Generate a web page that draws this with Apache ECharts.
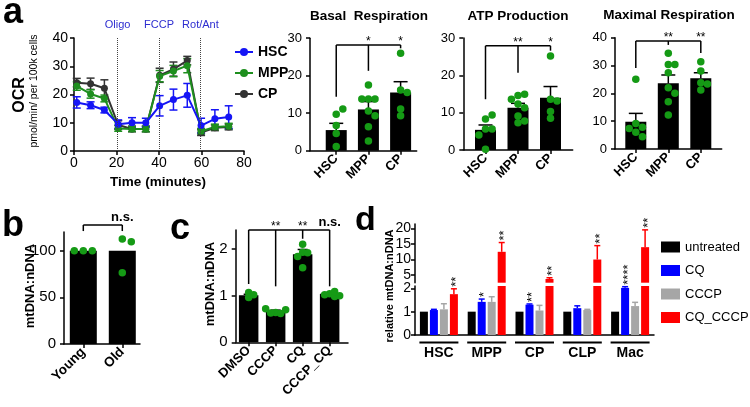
<!DOCTYPE html>
<html><head><meta charset="utf-8">
<script src="https://cdn.jsdelivr.net/npm/echarts@6/dist/echarts.min.js"></script>
<style>html,body{margin:0;padding:0;background:#fff}#c{width:750px;height:407px}</style>
</head><body><div id="c"></div>
<script>
const FONT = '"Liberation Sans", Arial, sans-serif';

// ---------- Panel a: OCR time course ----------
const timeMin = [1.3, 7.8, 14.3, 20.8, 27.3, 33.8, 40.3, 46.8, 53.3, 59.8, 66.3, 72.8];
const ocrHSC = [17.2, 16.2, 14.5, 9.5, 10, 10, 16, 18.2, 19.7, 9, 11.4, 12];
const ocrHSCErr = [2, 1.2, 1, 1.5, 1.8, 1.6, 3.6, 3.7, 4.2, 2.6, 3.2, 4];
const ocrMPP = [23, 20.2, 18.6, 8, 7.8, 7.8, 26.5, 28.3, 30.2, 7, 8.5, 8.8];
const ocrMPPErr = [1.5, 1.5, 1.2, 1, 0.9, 1, 2, 2, 2.5, 1, 1, 1];
const ocrCP = [24.2, 23.8, 22.2, 9.2, 7.8, 7.8, 26.8, 29, 32, 6.5, 8.2, 8.5];
const ocrCPErr = [1.5, 2, 3, 1.5, 1, 1, 2.5, 2.5, 1.5, 1, 1, 1];
const injectionNames = ['Oligo', 'FCCP', 'Rot/Ant'];
const injectionTimes = [20.5, 40, 59.5];

// ---------- Panel a: bar summaries ----------
const cellTypes = ['HSC', 'MPP', 'CP'];
const basalMean = [5.5, 11.0, 15.5];
const basalSem = [1.8, 2.1, 2.9];
const basalDots = [[9.7, 11.1, 6.7, 4.6, 1.1], [17.5, 13.8, 13.8, 13.8, 10.6, 9.3, 6.4, 2.6], [26, 16.2, 15.5, 11.1, 9.3]];
const basalBracketTop = 28.2;
const basalBracketEnds = [14.4, 21.3, 27.3];
const basalSig = ['', '*', '*'];

const atpMean = [5.4, 11.3, 14.0];
const atpSem = [1.3, 1.2, 3.0];
const atpDots = [[8.3, 9.4, 5.6, 5.6, 4.0, 0.2], [14.6, 14.9, 12.3, 13.6, 11.3, 9.1, 7.8, 7.3], [25.2, 13.6, 13.1, 10.3, 8.5]];
const atpBracketTop = 27.9;
const atpBracketEnds = [13.6, 20.7, 26.6];
const atpSig = ['', '**', '*'];

const maxMean = [9.8, 23.6, 25.4];
const maxSem = [3.0, 3.0, 2.0];
const maxDots = [[25.1, 9.2, 7.8, 7.4, 6.0, 4.4], [34.4, 30.4, 30.4, 27.4, 22, 20, 17, 12.2], [31.4, 28, 23.8, 23.4, 21.2]];
const maxBracketTop = 38.8;
const maxBracketEnds = [29.1, 37.4, 34.5];
const maxSig = ['', '**', '**'];

// ---------- Panel b ----------
const ageGroups = ['Young', 'Old'];
const ageMean = [100, 100];
const ageSem = [0, 0];
const ageDots = [[100, 100, 100], [112.5, 109.6, 76.4]];
const ageBracketTop = 127.5;
const ageBracketEnds = [121, 121];
const ageSig = ['', 'n.s.'];

// ---------- Panel c ----------
const drugs = ['DMSO', 'CCCP', 'CQ', 'CCCP_CQ'];
const drugMean = [1.01, 0.67, 1.89, 1.04];
const drugSem = [0.02, 0.02, 0.1, 0.02];
const drugDots = [[1.07, 1.02, 0.96], [0.64, 0.62, 0.63, 0.7, 0.72], [2.1, 1.93, 1.92, 1.84, 1.6], [1.04, 0.98, 1.02, 1.09, 1.0]];
const drugBracketTop = 2.41;
const drugBracketEnds = [1.25, 1.2, 2.22, 1.2];
const drugSig = ['', '**', '**', 'n.s.'];

// ---------- Panel d ----------
const dCells = ['HSC', 'MPP', 'CP', 'CLP', 'Mac'];
const dTreatments = ['untreated', 'CQ', 'CCCP', 'CQ_CCCP'];
const dUntreated = [1, 1, 1, 1, 1];
const dUntreatedErr = [0, 0, 0, 0, 0];
const dCQ = [1.07, 1.42, 1.3, 1.15, 2.02];
const dCQErr = [0.03, 0.12, 0.03, 0.1, 0.05];
const dCCCP = [1.1, 1.42, 1.05, 1.07, 1.24];
const dCCCPErr = [0.24, 0.22, 0.22, 0.03, 0.16];
const dCQCCCP = [1.75, 12.5, 3.7, 10, 14];
const dCQCCCPErr = [0.23, 3, 0.4, 4.5, 5.6];
const dStarCell = [0, 1, 1, 2, 2, 3, 4, 4];
const dStarTreat = [3, 1, 3, 1, 3, 3, 1, 3];
const dStarText = ['**', '*', '**', '**', '**', '**', '****', '**'];
const dLowTicks = [0, 1, 2];
const dHighTicks = [5, 10, 15, 20];

// ================= build =================
const GREEN = '#159a15';
const LINECOL = {HSC: '#1515f5', MPP: '#1e8f1e', CP: '#333333'};
const D_COLORS = ['#000000', '#0000ff', '#a6a6a6', '#ff0000'];

function axisBase(fs) {
  return {
    axisLine: {show: true, onZero: false, lineStyle: {color: '#000', width: 1.5}},
    axisTick: {show: true, length: 4, lineStyle: {color: '#000', width: 1.5}},
    axisLabel: {color: '#000', fontFamily: FONT, fontSize: fs || 13},
    splitLine: {show: false}
  };
}
function merge(a, b) {
  const o = Object.assign({}, a);
  for (const k in b) {
    if (b[k] && typeof b[k] === 'object' && !Array.isArray(b[k]) && a[k] && typeof a[k] === 'object') o[k] = merge(a[k], b[k]);
    else o[k] = b[k];
  }
  return o;
}
function errRender(color, cap, both, dx) {
  dx = dx || 0;
  return function (params, api) {
    const x = api.value(0), m = api.value(1), e = api.value(2);
    if (isNaN(m) || !e) return null;
    const top = api.coord([x, m + e]);
    const bot = api.coord([x, both ? m - e : m]);
    const cx = top[0] + dx;
    const st = {stroke: color, lineWidth: 1.5};
    const ch = [
      {type: 'line', shape: {x1: cx, y1: top[1], x2: cx, y2: bot[1]}, style: st},
      {type: 'line', shape: {x1: cx - cap / 2, y1: top[1], x2: cx + cap / 2, y2: top[1]}, style: st}
    ];
    if (both) ch.push({type: 'line', shape: {x1: cx - cap / 2, y1: bot[1], x2: cx + cap / 2, y2: bot[1]}, style: st});
    return {type: 'group', children: ch};
  };
}
function swarm(vals, pxPerUnit, d) {
  const placed = [];
  return vals.map(v => {
    const y = v * pxPerUnit;
    const cands = [0, d, -d, 2 * d, -2 * d];
    for (const c of cands) {
      if (placed.every(p => Math.hypot(p[0] - c, p[1] - y) >= d * 0.98)) { placed.push([c, y]); return c; }
    }
    placed.push([0, y]); return 0;
  });
}

const grids = [], xAxes = [], yAxes = [], series = [];

// ---- a: line chart (grid 0)
grids.push({left: 74, top: 38, width: 170, height: 113});
xAxes.push(merge(axisBase(14), {type: 'value', gridIndex: 0, min: 0, max: 80, interval: 20, axisLabel: {margin: 5}}));
yAxes.push(merge(axisBase(14), {type: 'value', gridIndex: 0, min: 0, max: 40, interval: 10, axisLabel: {margin: 6}}));
const lineSets = [['CP', ocrCP, ocrCPErr], ['MPP', ocrMPP, ocrMPPErr], ['HSC', ocrHSC, ocrHSCErr]];
lineSets.forEach(([name, vals, errs]) => {
  const col = LINECOL[name];
  series.push({
    type: 'custom', xAxisIndex: 0, yAxisIndex: 0, silent: true, z: 3,
    renderItem: errRender(col, 8, true),
    data: timeMin.map((t, i) => [t, vals[i], errs[i]])
  });
  const s = {
    name, type: 'line', xAxisIndex: 0, yAxisIndex: 0, z: 4,
    symbol: 'circle', symbolSize: 7, showSymbol: true,
    lineStyle: {color: col, width: 2}, itemStyle: {color: col},
    data: timeMin.map((t, i) => [t, vals[i]])
  };
  if (name === 'HSC') {
    s.markLine = {
      silent: true, symbol: ['none', 'none'], animation: false,
      lineStyle: {type: 'dotted', color: '#444', width: 1},
      label: {show: true, position: 'end', formatter: p => p.name, color: '#2d2dd0', fontSize: 11, fontFamily: FONT, distance: 8},
      data: injectionTimes.map((t, i) => ({xAxis: t, name: injectionNames[i]}))
    };
  }
  series.push(s);
});

// ---- bar panels
function barPanel(names, means, sems, dots, bTop, bEnds, sig, cfg) {
  const gi = grids.length;
  grids.push({left: cfg.left, top: cfg.top, width: cfg.width, height: cfg.height});
  const idx = names.map((n, i) => i);
  xAxes.push(merge(axisBase(13), {
    type: 'value', gridIndex: gi, min: cfg.xMin, max: cfg.xMax,
    axisTick: {customValues: idx},
    axisLabel: {customValues: idx, formatter: v => names[Math.round(v)] || '', rotate: 45, fontWeight: 'bold', fontSize: cfg.xFont || 13, margin: 6}
  }));
  const yA = merge(axisBase(cfg.yFont || 13), {type: 'value', gridIndex: gi, min: 0, max: cfg.yMax});
  if (cfg.yTicks) { yA.axisTick.customValues = cfg.yTicks; yA.axisLabel.customValues = cfg.yTicks; }
  else yA.interval = cfg.yInterval;
  yAxes.push(yA);
  series.push({
    type: 'bar', xAxisIndex: gi, yAxisIndex: gi, barWidth: cfg.barWidth, silent: true, z: 2,
    itemStyle: {color: '#000'}, data: means.map((m, i) => [i, m])
  });
  series.push({
    type: 'custom', xAxisIndex: gi, yAxisIndex: gi, silent: true, z: 3,
    renderItem: errRender('#000', cfg.cap || 14, false), data: means.map((m, i) => [i, m, sems[i]])
  });
  const ppu = cfg.height / cfg.yMax;
  const dotData = [];
  dots.forEach((arr, i) => {
    const offs = swarm(arr, ppu, cfg.spread || 6.6);
    arr.forEach((v, j) => dotData.push({value: [i, v], symbolOffset: [offs[j], 0]}));
  });
  series.push({
    type: 'scatter', xAxisIndex: gi, yAxisIndex: gi, silent: true, z: 5,
    symbol: 'circle', symbolSize: 7.5, itemStyle: {color: GREEN, opacity: 1}, data: dotData
  });
  series.push({
    type: 'custom', xAxisIndex: gi, yAxisIndex: gi, silent: true, z: 6, clip: false,
    data: [[0, bTop]],
    renderItem: function (params, api) {
      const st = {stroke: '#000', lineWidth: 1.5};
      const a = api.coord([0, bTop]), b = api.coord([names.length - 1, bTop]);
      const ch = [{type: 'line', shape: {x1: a[0], y1: a[1], x2: b[0], y2: b[1]}, style: st}];
      bEnds.forEach((e, i) => {
        const p = api.coord([i, bTop]), q = api.coord([i, e]);
        ch.push({type: 'line', shape: {x1: p[0], y1: p[1], x2: q[0], y2: q[1]}, style: st});
        if (sig[i]) {
          const ns = sig[i] === 'n.s.';
          ch.push({type: 'text', x: p[0], y: p[1] + (ns ? -1 : 3), style: {
            text: sig[i], fill: '#000', align: 'center', verticalAlign: 'bottom',
            font: (ns ? 'bold 13px ' : '12px ') + FONT}});
        }
      });
      return {type: 'group', children: ch};
    }
  });
}

barPanel(cellTypes, basalMean, basalSem, basalDots, basalBracketTop, basalBracketEnds, basalSig,
  {left: 310, top: 38.2, width: 106.7, height: 112.5, xMin: -0.815, xMax: 2.5, yMax: 30, yInterval: 10, barWidth: 21});
barPanel(cellTypes, atpMean, atpSem, atpDots, atpBracketTop, atpBracketEnds, atpSig,
  {left: 463.3, top: 38, width: 109.4, height: 112, xMin: -0.683, xMax: 2.683, yMax: 30, yInterval: 10, barWidth: 21});
barPanel(cellTypes, maxMean, maxSem, maxDots, maxBracketTop, maxBracketEnds, maxSig,
  {left: 615, top: 37.7, width: 106.7, height: 111.3, xMin: -0.64, xMax: 2.643, yMax: 40, yInterval: 10, barWidth: 21});
barPanel(ageGroups, ageMean, ageSem, ageDots, ageBracketTop, ageBracketEnds, ageSig,
  {left: 64, top: 232, width: 76, height: 112, xMin: -0.495, xMax: 1.454, yMax: 120, yTicks: [0, 50, 100], barWidth: 27, yFont: 15, xFont: 13.5, spread: 9});
barPanel(drugs, drugMean, drugSem, drugDots, drugBracketTop, drugBracketEnds, drugSig,
  {left: 235.7, top: 229.9, width: 112.3, height: 112.4, xMin: -0.48, xMax: 3.68, yMax: 2.41, yTicks: [0, 1, 2], barWidth: 19.5, cap: 10, yFont: 15, xFont: 13, spread: 5});

// ---- d: broken-axis grouped bars
const dGL = 415, dGW = 239;
const giLow = grids.length;
grids.push({left: dGL, top: 286, width: dGW, height: 49});
const giHigh = grids.length;
grids.push({left: dGL, top: 224, width: dGW, height: 58.7});
xAxes.push(merge(axisBase(14), {type: 'category', gridIndex: giLow, data: dCells, axisTick: {show: false},
  axisLabel: {interval: 0, fontWeight: 'bold', fontSize: 14, margin: 11}}));
xAxes.push({type: 'category', gridIndex: giHigh, data: dCells, show: false});
yAxes.push(merge(axisBase(14), {type: 'value', gridIndex: giLow, min: 0, max: 2.1,
  axisTick: {customValues: dLowTicks}, axisLabel: {customValues: dLowTicks, margin: 4}}));
yAxes.push(merge(axisBase(14), {type: 'value', gridIndex: giHigh, min: 2.5, max: 21.5,
  axisTick: {customValues: dHighTicks}, axisLabel: {customValues: dHighTicks, margin: 4}}));
const dVals = [dUntreated, dCQ, dCCCP, dCQCCCP];
const dErrs = [dUntreatedErr, dCQErr, dCCCPErr, dCQCCCPErr];
const LOW_MAX = 2.1, HIGH_MIN = 2.5;
dVals.forEach((vals, k) => {
  const dx = (k - 1.5) * 10;
  series.push({name: dTreatments[k], type: 'bar', xAxisIndex: giLow, yAxisIndex: giLow, barWidth: 8, barGap: '25%', silent: true,
    itemStyle: {color: D_COLORS[k]}, data: vals.slice(), z: 2});
  series.push({name: dTreatments[k], type: 'bar', xAxisIndex: giHigh, yAxisIndex: giHigh, barWidth: 8, barGap: '25%', silent: true,
    itemStyle: {color: D_COLORS[k]}, data: vals.map(v => v > HIGH_MIN ? v : '-'), z: 2});
  series.push({type: 'custom', xAxisIndex: giLow, yAxisIndex: giLow, silent: true, z: 3, clip: false,
    renderItem: errRender(D_COLORS[k], 6, false, dx),
    data: vals.map((v, i) => v + dErrs[k][i] <= LOW_MAX ? [i, v, dErrs[k][i]] : [i, NaN, 0])});
  series.push({type: 'custom', xAxisIndex: giHigh, yAxisIndex: giHigh, silent: true, z: 3, clip: false,
    renderItem: errRender(D_COLORS[k], 6, false, dx),
    data: vals.map((v, i) => v + dErrs[k][i] > LOW_MAX ? [i, v, dErrs[k][i]] : [i, NaN, 0])});
});
// significance stars (vertical)
function starItems(useHigh) {
  return dStarCell.map((c, j) => {
    const k = dStarTreat[j];
    const top = dVals[k][c] + dErrs[k][c];
    return (top > LOW_MAX) === useHigh ? [c, top, j] : [c, NaN, j];
  });
}
[[giLow, false], [giHigh, true]].forEach(([gi, hi]) => {
  series.push({type: 'custom', xAxisIndex: gi, yAxisIndex: gi, silent: true, z: 6, clip: false,
    data: starItems(hi),
    renderItem: function (params, api) {
      const v = api.value(1);
      if (isNaN(v)) return null;
      const j = api.value(2);
      const p = api.coord([api.value(0), v]);
      const dx = (dStarTreat[j] - 1.5) * 10;
      return {type: 'text', x: p[0] + dx + 3, y: p[1] - 2, rotation: Math.PI / 2,
        style: {text: dStarText[j], fill: '#000', align: 'left', verticalAlign: 'middle', font: '13px ' + FONT}};
    }
  });
});
// group underlines
series.push({type: 'custom', xAxisIndex: giLow, yAxisIndex: giLow, silent: true, clip: false, z: 6,
  data: dCells.map((c, i) => [i, 0]),
  renderItem: function (params, api) {
    const p = api.coord([api.value(0), 0]);
    return {type: 'line', shape: {x1: p[0] - 19.5, y1: p[1] + 7.5, x2: p[0] + 19.5, y2: p[1] + 7.5}, style: {stroke: '#000', lineWidth: 2.2}};
  }
});

// ---- texts
function txt(text, x, y, font, opt) {
  return Object.assign({type: 'text', x, y, silent: true,
    style: {text, font: font + ' ' + FONT, fill: '#000', align: 'center', verticalAlign: 'middle'}}, opt || {});
}
function letter(t, x, y, size) {
  return {type: 'text', x, y, silent: true, style: {text: t, font: 'bold ' + size + 'px ' + FONT, fill: '#000', align: 'left', verticalAlign: 'middle'}};
}
const graphic = [
  letter('a', 3, 13, 36), letter('b', 2, 226, 36), letter('c', 170, 229, 36), letter('d', 355, 221, 34),
  txt('Basal  Respiration', 369, 16, 'bold 13.5px'),
  txt('ATP Production', 518, 16, 'bold 13.5px'),
  txt('Maximal Respiration', 669, 15, 'bold 13.5px'),
  txt('Time (minutes)', 158, 182, 'bold 13.5px'),
  txt('OCR', 20, 95, 'bold 16px', {rotation: Math.PI / 2}),
  txt('pmol/min/ per 100k cells', 34, 91, '10.5px', {rotation: Math.PI / 2}),
  txt('mtDNA:nDNA', 30, 286, 'bold 13px', {rotation: Math.PI / 2}),
  txt('mtDNA:nDNA', 210, 284, 'bold 13px', {rotation: Math.PI / 2}),
  txt('relative mtDNA:nDNA', 390, 286, 'bold 11px', {rotation: Math.PI / 2})
];

const option = {
  animation: false,
  backgroundColor: '#fff',
  grid: grids, xAxis: xAxes, yAxis: yAxes, series,
  legend: [
    {data: ['HSC', 'MPP', 'CP'], orient: 'vertical', left: 229, top: 40, itemWidth: 18, itemHeight: 10, itemGap: 7,
      selectedMode: false, textStyle: {color: '#000', fontWeight: 'bold', fontSize: 14, fontFamily: FONT}},
    {data: dTreatments, orient: 'vertical', left: 656, top: 235.5, itemWidth: 19, itemHeight: 11, itemGap: 10.5, icon: 'rect',
      selectedMode: false, textStyle: {color: '#000', fontSize: 13, fontFamily: FONT}}
  ],
  graphic
};
const chart = echarts.init(document.getElementById('c'));
chart.setOption(option);
</script></body></html>
